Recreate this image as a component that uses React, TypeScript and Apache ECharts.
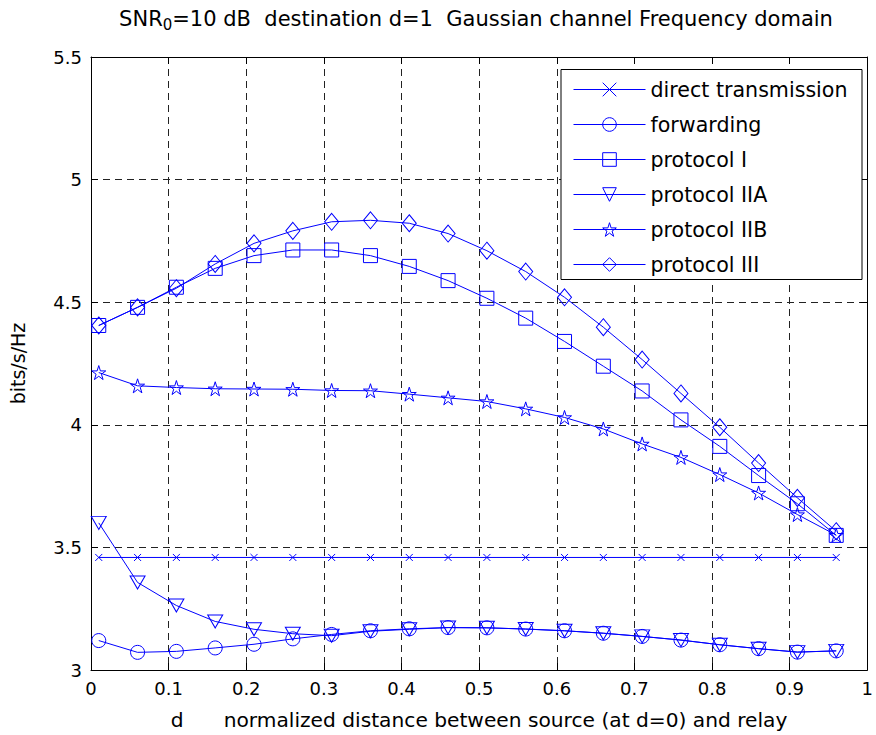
import React, { useEffect, useRef } from "react";
import * as echarts from "echarts";

// normalized distance d between source and relay
const distances = [0.01, 0.06, 0.11, 0.16, 0.21, 0.26, 0.31, 0.36, 0.41, 0.46, 0.51, 0.56, 0.61, 0.66, 0.71, 0.76, 0.81, 0.86, 0.91, 0.96];

const directTransmission = [3.459, 3.459, 3.459, 3.459, 3.459, 3.459, 3.459, 3.459, 3.459, 3.459, 3.459, 3.459, 3.459, 3.459, 3.459, 3.459, 3.459, 3.459, 3.459, 3.459];
const forwarding = [3.12, 3.072, 3.076, 3.09, 3.105, 3.127, 3.145, 3.16, 3.168, 3.173, 3.172, 3.167, 3.16, 3.15, 3.137, 3.122, 3.103, 3.087, 3.073, 3.078];
const protocolI = [4.405, 4.479, 4.561, 4.638, 4.69, 4.713, 4.713, 4.69, 4.646, 4.588, 4.516, 4.435, 4.34, 4.239, 4.138, 4.02, 3.912, 3.793, 3.678, 3.549];
const protocolIIA = [3.6, 3.357, 3.263, 3.198, 3.166, 3.148, 3.14, 3.158, 3.166, 3.173, 3.172, 3.167, 3.16, 3.15, 3.137, 3.122, 3.103, 3.087, 3.073, 3.078];
const protocolIIB = [4.213, 4.159, 4.152, 4.147, 4.146, 4.145, 4.14, 4.139, 4.125, 4.11, 4.095, 4.065, 4.03, 3.983, 3.922, 3.867, 3.797, 3.722, 3.634, 3.55];
const protocolIII = [4.405, 4.479, 4.557, 4.656, 4.74, 4.791, 4.828, 4.834, 4.822, 4.78, 4.71, 4.625, 4.52, 4.398, 4.266, 4.128, 3.99, 3.844, 3.702, 3.566];

const seriesNames = ["direct transmission", "forwarding", "protocol I", "protocol IIA", "protocol IIB", "protocol III"];
const seriesValues = [directTransmission, forwarding, protocolI, protocolIIA, protocolIIB, protocolIII];

const BLUE = "#0000ff";
const FONT = "DejaVu Sans";

const STAR = "path://M50 0L61.17 34.63L97.55 34.55L68.07 55.87L79.39 90.45L50 69L20.61 90.45L31.93 55.87L2.45 34.55L38.83 34.63Z";
const CROSS = "path://M0 0L10 10M10 0L0 10";

const symbolStyles: { symbol: string; size: number | number[]; rotate: number }[] = [
  { symbol: CROSS, size: 7, rotate: 0 },
  { symbol: "circle", size: 14, rotate: 0 },
  { symbol: "rect", size: 14, rotate: 0 },
  { symbol: "triangle", size: [15, 13], rotate: 180 },
  { symbol: STAR, size: 14, rotate: 0 },
  { symbol: "diamond", size: [14, 17], rotate: 0 },
];

export default function App() {
  const ref = useRef<HTMLDivElement>(null);

  useEffect(() => {
    document.body.style.margin = "0";
    if (!ref.current) return;
    const chart = echarts.init(ref.current, null, { renderer: "svg" });

    const series = seriesNames.map((name, i) => ({
      name,
      type: "line",
      data: distances.map((d, j) => [d, seriesValues[i][j]]),
      symbol: symbolStyles[i].symbol,
      symbolSize: symbolStyles[i].size,
      symbolRotate: symbolStyles[i].rotate,
      symbolKeepAspect: false,
      showAllSymbol: true,
      lineStyle: { color: BLUE, width: 1 },
      itemStyle: { color: "none", borderColor: BLUE, borderWidth: 1 },
      emphasis: { disabled: true },
      z: 2,
    }));

    const tickStyle = { show: true, inside: true, length: 7, lineStyle: { color: "#000", width: 1 } };
    const axisLine = { show: true, onZero: false, lineStyle: { color: "#000", width: 1 } };
    const splitLine = { show: true, lineStyle: { color: "#222", width: 1, type: [7, 5] } };

    chart.setOption({
      animation: false,
      backgroundColor: "#fff",
      grid: { left: 91, right: 4, top: 57, bottom: 62, containLabel: false },
      xAxis: [
        {
          type: "value",
          min: 0,
          max: 1,
          interval: 0.1,
          position: "bottom",
          axisLine,
          axisTick: tickStyle,
          splitLine,
          axisLabel: { color: "#000", fontSize: 18, fontFamily: FONT, margin: 9 },
          name: "{d|d}{n|normalized distance between source (at d=0) and relay}",
          nameLocation: "middle",
          nameGap: 40,
          nameTextStyle: {
            color: "#000",
            rich: {
              d: { fontSize: 20.2, fontFamily: FONT, color: "#000", padding: [0, 40, 0, 0] },
              n: { fontSize: 20.2, fontFamily: FONT, color: "#000" },
            },
          },
        },
        {
          type: "value",
          min: 0,
          max: 1,
          interval: 0.1,
          position: "top",
          axisLine,
          axisTick: tickStyle,
          splitLine: { show: false },
          axisLabel: { show: false },
        },
      ],
      yAxis: [
        {
          type: "value",
          min: 3,
          max: 5.5,
          interval: 0.5,
          position: "left",
          axisLine,
          axisTick: tickStyle,
          splitLine,
          axisLabel: { color: "#000", fontSize: 18, fontFamily: FONT, margin: 9 },
          name: "bits/s/Hz",
          nameLocation: "middle",
          nameGap: 64,
          nameTextStyle: { color: "#000", fontSize: 19, fontFamily: FONT },
        },
        {
          type: "value",
          min: 3,
          max: 5.5,
          interval: 0.5,
          position: "right",
          axisLine,
          axisTick: tickStyle,
          splitLine: { show: false },
          axisLabel: { show: false },
        },
      ],
      legend: {
        show: true,
        orient: "vertical",
        left: 573,
        top: 79,
        padding: 0,
        itemWidth: 72,
        itemHeight: 17,
        itemGap: 14,
        data: seriesNames,
        itemStyle: { borderWidth: 1 },
        lineStyle: { width: 1 },
        textStyle: { color: "#000", fontSize: 20.6, fontFamily: FONT },
        selectedMode: false,
        z: 5,
      },
      graphic: [
        {
          type: "rect",
          z: 4,
          shape: { x: 561, y: 69.5, width: 301, height: 210 },
          style: { fill: "#fff", stroke: "#000", lineWidth: 1 },
        },
        {
          type: "text",
          z: 5,
          x: 476,
          y: 19,
          style: {
            text: "{a|SNR}{s|0}{a|=10 dB  destination d=1  Gaussian channel Frequency domain}",
            textAlign: "center",
            textVerticalAlign: "middle",
            rich: {
              a: { fontSize: 21, fontFamily: FONT, fill: "#000", color: "#000" },
              s: { fontSize: 15, fontFamily: FONT, fill: "#000", color: "#000", padding: [12, 0, 0, 0] },
            },
          },
        },
      ],
      series,
    });

    return () => chart.dispose();
  }, []);

  return <div ref={ref} style={{ width: 876, height: 735 }} />;
}
